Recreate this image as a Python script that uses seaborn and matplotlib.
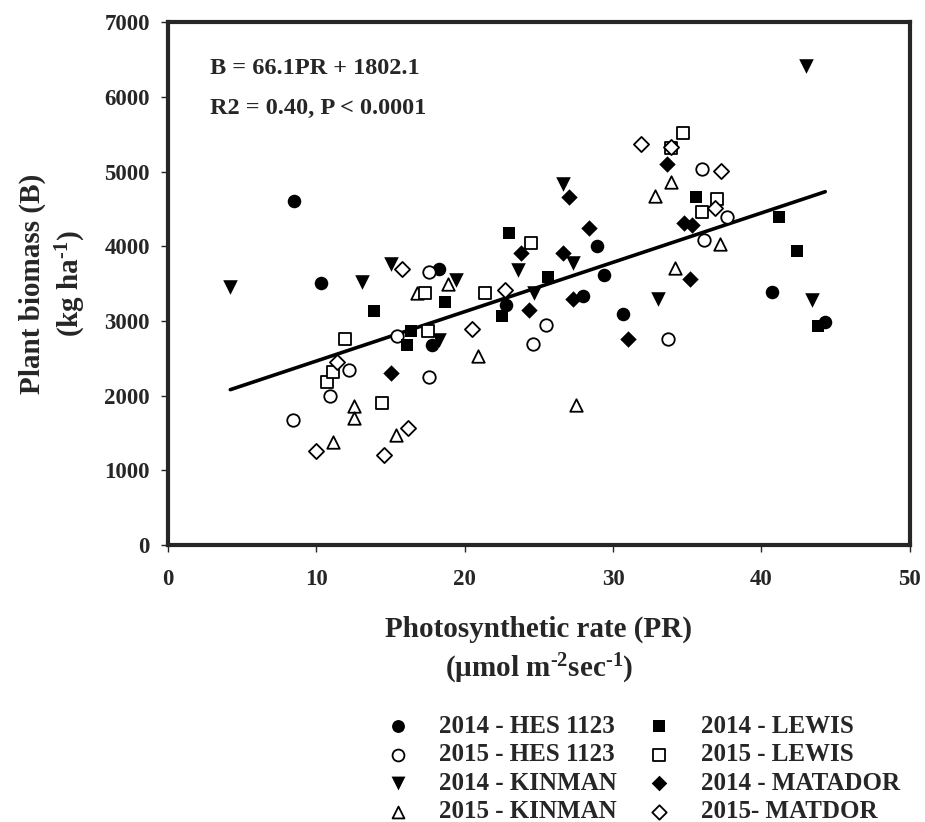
import numpy as np
import pandas as pd
import matplotlib
matplotlib.use("Agg")
import matplotlib.pyplot as plt
import seaborn as sns

# Photosynthetic rate (PR) vs plant biomass (B)
hes14_pr = [8.5, 10.3, 18.3, 17.8, 22.8, 28.0, 28.9, 29.4, 30.7, 40.7, 44.3]
hes14_b = [4600, 3510, 3690, 2680, 3220, 3330, 4010, 3615, 3090, 3390, 2990]

hes15_pr = [8.45, 10.9, 12.2, 15.45, 17.6, 17.6, 24.6, 25.45, 33.7, 36.0, 36.1, 37.7]
hes15_b = [1680, 2000, 2340, 2800, 3660, 2245, 2690, 2945, 2760, 5030, 4080, 4395]

kin14_pr = [4.2, 13.1, 15.0, 18.3, 19.4, 23.6, 24.7, 26.6, 27.3, 33.0, 43.4, 43.0]
kin14_b = [3460, 3515, 3760, 2745, 3550, 3680, 3370, 4830, 3780, 3295, 3280, 6420]

kin15_pr = [11.1, 12.55, 12.55, 15.4, 16.8, 18.85, 20.9, 27.5, 32.8, 33.9, 34.2, 37.2]
kin15_b = [1385, 1860, 1695, 1470, 3375, 3490, 2530, 1875, 4670, 4860, 3705, 4025]

lew14_pr = [13.9, 16.1, 16.4, 18.7, 22.5, 23.0, 25.6, 35.6, 41.2, 42.4, 43.8]
lew14_b = [3130, 2675, 2865, 3250, 3065, 4180, 3585, 4655, 4395, 3935, 2935]

lew15_pr = [10.7, 11.1, 11.9, 14.4, 17.3, 17.5, 21.4, 24.5, 33.9, 34.7, 36.0, 37.0]
lew15_b = [2185, 2310, 2755, 1905, 3370, 2870, 3375, 4040, 5310, 5510, 4460, 4630]

mat14_pr = [15.0, 23.8, 24.3, 26.6, 27.0, 27.3, 28.4, 31.0, 33.6, 34.8, 35.35, 35.2]
mat14_b = [2300, 3915, 3140, 3915, 4655, 3290, 4245, 2755, 5095, 4315, 4290, 3555]

mat15_pr = [9.95, 11.4, 14.55, 15.8, 16.2, 20.5, 22.7, 31.9, 33.9, 36.9, 37.3]
mat15_b = [1260, 2455, 1205, 3700, 1570, 2890, 3410, 5370, 5330, 4515, 5005]

series_labels = ["2014 - HES 1123", "2015 - HES 1123", "2014 - KINMAN", "2015 - KINMAN",
                 "2014 - LEWIS", "2015 - LEWIS", "2014 - MATADOR", "2015- MATDOR"]

slope = 66.1
intercept = 1802.1

x_ticks = [0, 10, 20, 30, 40, 50]
y_ticks = [0, 1000, 2000, 3000, 4000, 5000, 6000, 7000]

series = [
    (hes14_pr, hes14_b, "o", True),
    (hes15_pr, hes15_b, "o", False),
    (kin14_pr, kin14_b, "v", True),
    (kin15_pr, kin15_b, "^", False),
    (lew14_pr, lew14_b, "s", True),
    (lew15_pr, lew15_b, "s", False),
    (mat14_pr, mat14_b, "D", True),
    (mat15_pr, mat15_b, "D", False),
]

sns.set_style("ticks")
plt.rcParams["font.family"] = ["Liberation Serif", "DejaVu Serif"]
plt.rcParams["font.weight"] = "bold"
plt.rcParams["mathtext.fontset"] = "custom"
plt.rcParams["mathtext.rm"] = "Liberation Serif:bold"
plt.rcParams["mathtext.default"] = "regular"

fig = plt.figure(figsize=(9.25, 8.22), dpi=100)
ax = fig.add_axes([0.1816, 0.337, 0.802, 0.636])

sizes = {"o": 95, "v": 110, "^": 95, "s": 85, "D": 70}
for (pr, b, mk, filled), lab in zip(series, series_labels):
    df = pd.DataFrame({"PR": pr, "B": b})
    sns.scatterplot(data=df, x="PR", y="B", ax=ax, marker=mk,
                    s=sizes[mk] if filled else sizes[mk] * 0.85,
                    color="black" if filled else "white",
                    edgecolor="black", linewidth=0 if filled else 1.3,
                    label=lab, zorder=3)

# fitted line over the range of the data
all_pr = np.concatenate([np.array(s[0]) for s in series])
fit_x = np.array([all_pr.min(), all_pr.max()])
fit = pd.DataFrame({"PR": fit_x, "B": slope * fit_x + intercept})
sns.lineplot(data=fit, x="PR", y="B", ax=ax, color="black", linewidth=2.6, zorder=2)

ax.set_xlim(0, 50)
ax.set_ylim(0, 7000)
ax.set_xticks(x_ticks)
ax.set_yticks(y_ticks)
ax.tick_params(direction="out", length=5, width=1.0, labelsize=16.5)
ax.tick_params(axis="x", pad=12)
ax.tick_params(axis="y", pad=8)
for lbl in ax.get_xticklabels() + ax.get_yticklabels():
    lbl.set_fontweight("bold")
for sp in ax.spines.values():
    sp.set_linewidth(3)
    sp.set_visible(True)

ax.set_xlabel("Photosynthetic rate (PR)\n(µmol m$^{\\text{-2}}$sec$^{\\text{-1}}$)",
              fontsize=21, fontweight="bold", labelpad=19, linespacing=1.32)
ax.set_ylabel("Plant biomass (B)\n(kg ha$^{\\text{-1}}$)",
              fontsize=21, fontweight="bold", labelpad=12, linespacing=1.3)

ax.text(0.057, 0.912, "B = 66.1PR + 1802.1", transform=ax.transAxes,
        fontsize=17.5, fontweight="bold", va="center")
ax.text(0.057, 0.835, "R2 = 0.40, P < 0.0001", transform=ax.transAxes,
        fontsize=17.5, fontweight="bold", va="center")

handles, labels = ax.get_legend_handles_labels()
handles = handles[:8]
labels = labels[:8]
ax.legend(handles, labels, ncol=2, frameon=False, loc="upper left",
          bbox_to_anchor=(0.276, -0.325), prop={"size": 18, "weight": "bold"},
          handletextpad=0.65, columnspacing=0.7, labelspacing=0.22,
          markerscale=0.95, borderpad=0, borderaxespad=0)

fig.savefig("out.png", dpi=100)
